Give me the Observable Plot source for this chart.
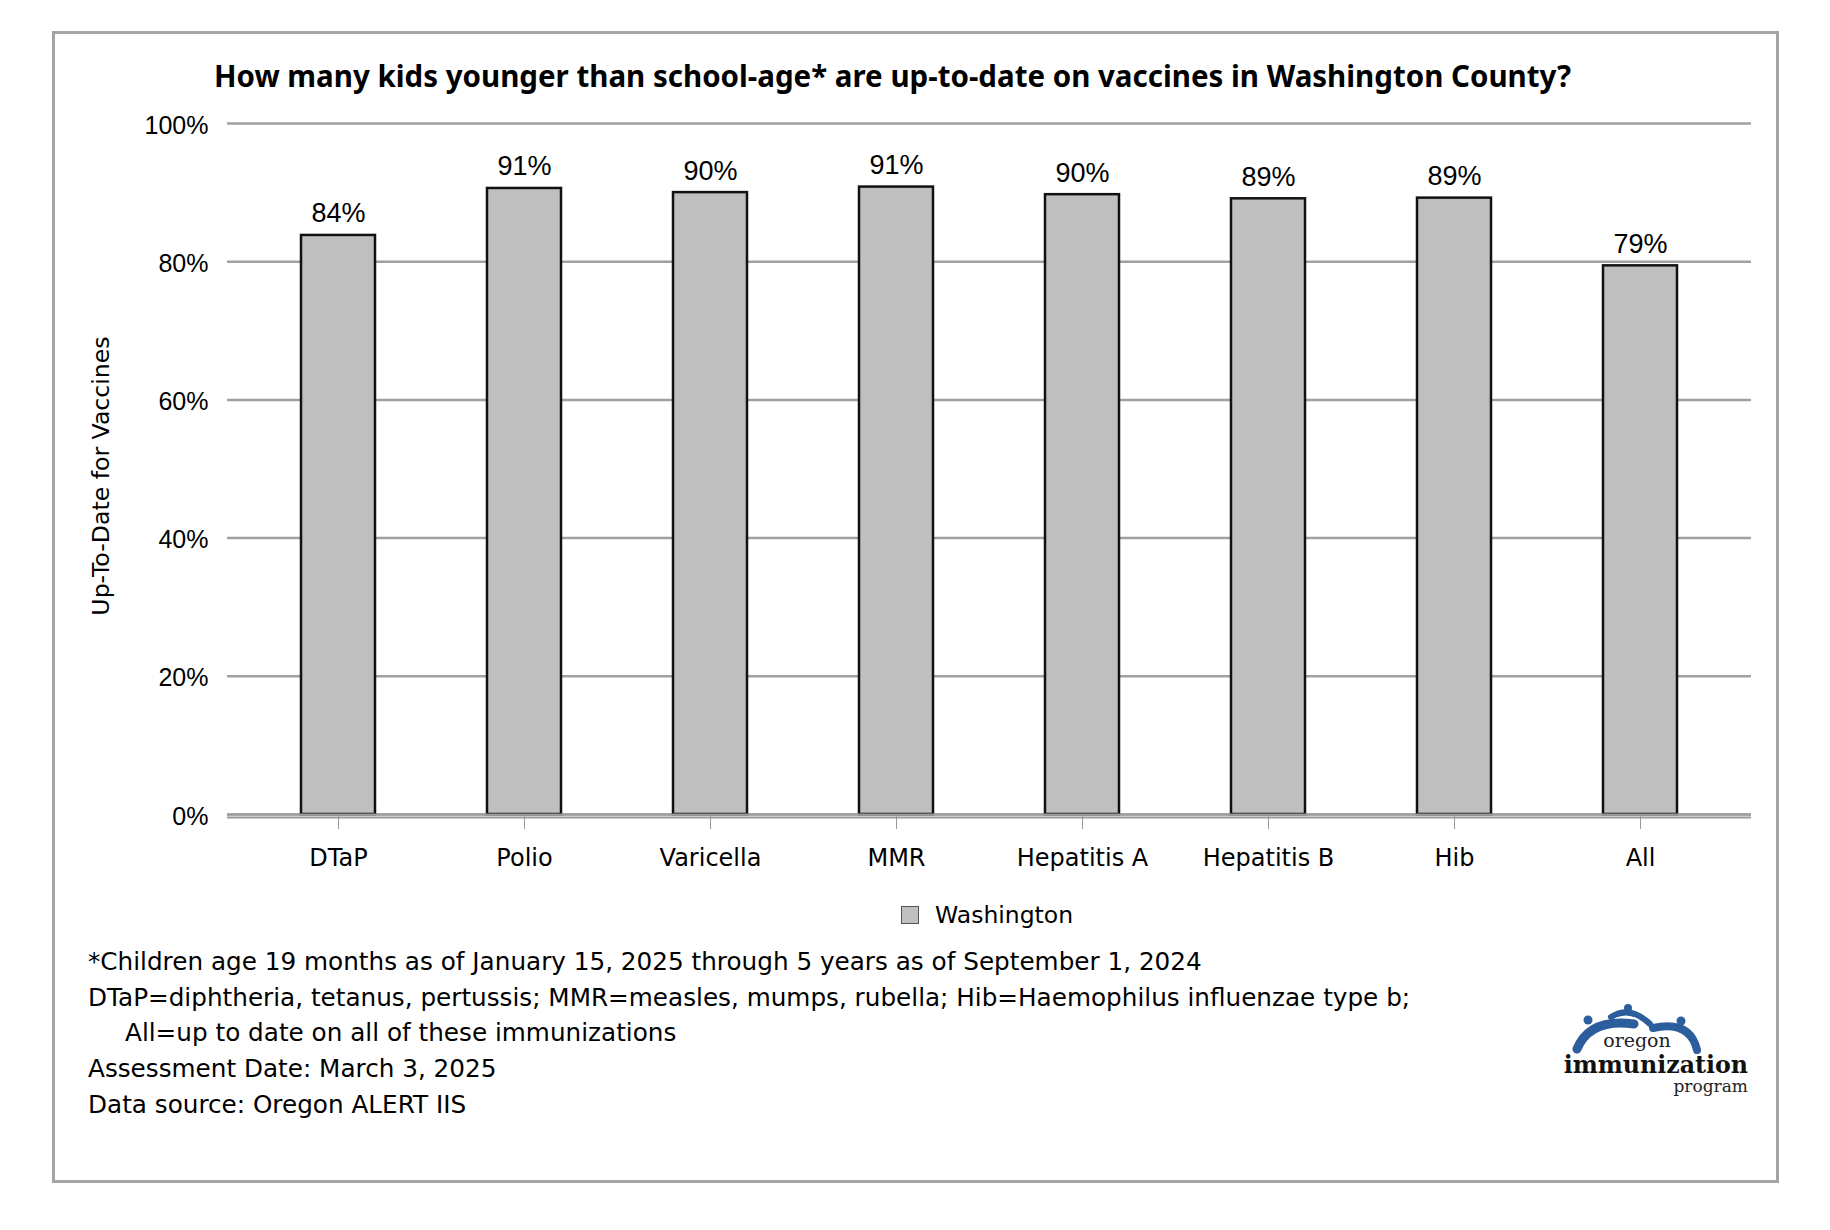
<!DOCTYPE html>
<html>
<head>
<meta charset="utf-8">
<script src="https://cdn.jsdelivr.net/npm/d3@7"></script>
<script src="https://cdn.jsdelivr.net/npm/@observablehq/plot@0.6"></script>
<style>
  html, body { margin: 0; padding: 0; background: #fff; }
  #page { position: relative; width: 1830px; height: 1230px; overflow: hidden; background: #fff; }
  #frame { position: absolute; left: 52px; top: 31px; width: 1727px; height: 1152px; border: 3px solid #a4a4a4; box-sizing: border-box; }
  #title { position: absolute; left: 214px; top: 61px; font-family: "Noto Sans", sans-serif; font-weight: 700; font-size: 29.5px; line-height: 29.5px; white-space: nowrap; color: #000; }
  #chart { position: absolute; left: 0; top: 0; }
  #legend { position: absolute; left: 901px; top: 899px; font-family: "DejaVu Sans", sans-serif; font-size: 23.5px; line-height: 32px; display: flex; align-items: center; color: #000; }
  #legend .sw { width: 18px; height: 18px; background: #bfbfbf; border: 1.5px solid #555; box-sizing: border-box; margin-right: 16px; }
  #caption { position: absolute; left: 88px; top: 944px; font-family: "DejaVu Sans", sans-serif; font-size: 24.7px; line-height: 35.7px; color: #000; white-space: nowrap; }
  #caption .ind { padding-left: 37px; }
  #logo { position: absolute; left: 1540px; top: 990px; }
</style>
</head>
<body>
<div id="page">
  <div id="frame"></div>
  <div id="title"></div>
  <div id="chart"></div>
  <div id="legend"><div class="sw"></div><span id="legendText"></span></div>
  <div id="caption"></div>
  <svg id="logo" width="240" height="110" viewBox="1540 990 240 110">
    <g fill="none" stroke="#2c5d9c" stroke-linecap="round">
      <path d="M1577,1049 Q1590,1018 1634,1024" stroke-width="9"/>
      <path d="M1611,1017 Q1630,1005 1650,1024" stroke-width="6"/>
      <path d="M1653,1028 Q1690,1020 1697,1050" stroke-width="8"/>
    </g>
    <g fill="#2c5d9c">
      <circle cx="1588" cy="1020" r="4.5"/>
      <circle cx="1628" cy="1008" r="4"/>
      <circle cx="1681" cy="1021" r="4.5"/>
    </g>
    <text x="1637" y="1047" text-anchor="middle" font-family="DejaVu Serif" font-size="19" fill="#222">oregon</text>
    <text x="1748" y="1073" text-anchor="end" font-family="DejaVu Serif" font-weight="700" font-size="23.7" fill="#111">immunization</text>
    <text x="1748" y="1092" text-anchor="end" font-family="DejaVu Serif" font-size="17" fill="#222">program</text>
  </svg>
</div>
<script>
const titleText = "How many kids younger than school-age* are up-to-date on vaccines in Washington County?";
const categories = ["DTaP", "Polio", "Varicella", "MMR", "Hepatitis A", "Hepatitis B", "Hib", "All"];
const values = [83.8, 90.6, 90.0, 90.8, 89.7, 89.1, 89.2, 79.4];
const valueLabels = ["84%", "91%", "90%", "91%", "90%", "89%", "89%", "79%"];
const yTicks = [0, 20, 40, 60, 80, 100];
const yTickLabels = ["0%", "20%", "40%", "60%", "80%", "100%"];
const yLabel = "Up-To-Date for Vaccines";
const seriesName = "Washington";
const captionLines = [
  "*Children age 19 months as of January 15, 2025 through 5 years as of September 1, 2024",
  "DTaP=diphtheria, tetanus, pertussis; MMR=measles, mumps, rubella; Hib=Haemophilus influenzae type b;",
  "All=up to date on all of these immunizations",
  "Assessment Date: March 3, 2025",
  "Data source: Oregon ALERT IIS"
];

document.getElementById("title").textContent = titleText;
document.getElementById("legendText").textContent = seriesName;
const cap = document.getElementById("caption");
captionLines.forEach((t, i) => {
  const d = document.createElement("div");
  d.textContent = t;
  if (i === 2) d.className = "ind";
  cap.appendChild(d);
});

const data = categories.map((c, i) => ({cat: c, value: values[i], label: valueLabels[i]}));

const chart = Plot.plot({
  width: 1830,
  height: 900,
  marginTop: 123,
  marginBottom: 86,
  marginLeft: 227,
  marginRight: 79,
  style: {fontFamily: "DejaVu Sans", fontSize: "24px", color: "#000", background: "transparent"},
  x: {domain: categories, paddingInner: 0.6, paddingOuter: 0.39, label: null},
  y: {domain: [0, 100], label: null},
  marks: [
    Plot.ruleY(yTicks, {stroke: "#a0a0a0", strokeWidth: 2.5}),
    Plot.barY(data, {x: "cat", y: "value", fill: "#bfbfbf", stroke: "#111", strokeWidth: 2.5}),
    Plot.ruleY([0], {stroke: "#9a9a9a", strokeWidth: 2.2}),
    Plot.ruleY([0], {stroke: "#9a9a9a", strokeWidth: 2.2, dy: 3}),
    Plot.text(data, {x: "cat", y: "value", text: "label", lineAnchor: "bottom", dy: -13, fontFamily: "Liberation Sans", fontSize: 27, fill: "#000"}),
    Plot.axisX({tickSize: 15, tickPadding: 19, stroke: "#999", fill: "#000", fontSize: 24, fontFamily: "DejaVu Sans"}),
    Plot.axisY({ticks: yTicks, tickFormat: (d) => yTickLabels[yTicks.indexOf(d)], tickSize: 0, tickPadding: 19, dy: 2, fill: "#000", fontSize: 25, fontFamily: "Liberation Sans"}),
    Plot.text([yLabel], {frameAnchor: "left", textAnchor: "middle", rotate: -90, dx: -126, dy: 7, fontSize: 23.6, fontFamily: "DejaVu Sans", fill: "#000"})
  ]
});
document.getElementById("chart").appendChild(chart);
</script>
</body>
</html>
